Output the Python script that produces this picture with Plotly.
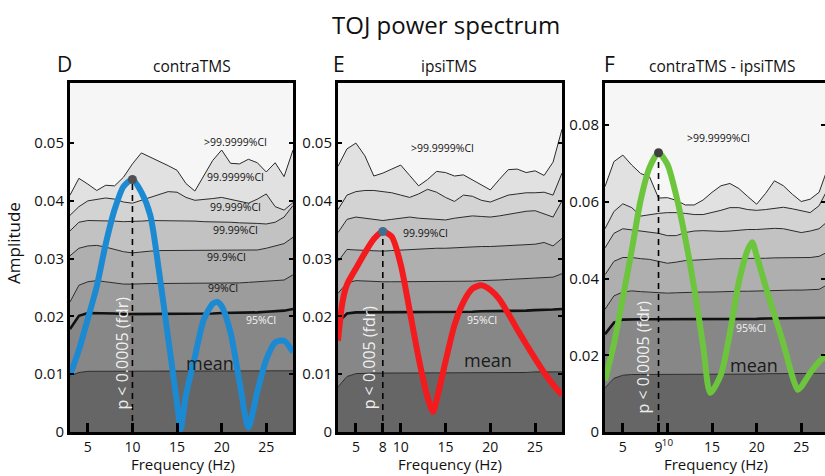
import plotly.graph_objects as go

# ---------------- data ----------------
freq = list(range(3, 29))  # Hz, 3..28

# contraTMS (panel D)
contra_ci_999999 = [0.041, 0.0439, 0.0429, 0.0418, 0.0427, 0.0426, 0.0441, 0.0464, 0.0483, 0.0476, 0.0469, 0.0461, 0.0453,
                    0.043, 0.0417, 0.0443, 0.047, 0.0488, 0.0465, 0.0464, 0.0472, 0.0466, 0.045, 0.0466, 0.0442, 0.0488]
contra_ci_99999 = [0.0375, 0.039, 0.040, 0.0402, 0.0405, 0.0403, 0.0398, 0.0396, 0.0401, 0.0406, 0.0411, 0.0416, 0.0415,
                   0.0406, 0.0401, 0.0402, 0.0404, 0.0406, 0.0403, 0.0399, 0.0396, 0.0403, 0.0412, 0.039, 0.0384, 0.0397]
contra_ci_9999 = [0.0348, 0.0363, 0.0366, 0.0366, 0.0366, 0.0365, 0.0364, 0.0364, 0.0365, 0.0366, 0.0366, 0.0365, 0.0366,
                  0.0366, 0.0365, 0.0364, 0.0364, 0.0363, 0.0363, 0.0362, 0.0362, 0.0361, 0.036, 0.0363, 0.0372, 0.0392]
contra_ci_999 = [0.0305, 0.0318, 0.0322, 0.0323, 0.032, 0.0316, 0.0312, 0.031, 0.0312, 0.0313, 0.0314, 0.0314, 0.0314,
                 0.0314, 0.0314, 0.0314, 0.0314, 0.0314, 0.0314, 0.0314, 0.0314, 0.0315, 0.0318, 0.0322, 0.0326, 0.0337]
contra_ci_99 = [0.0225, 0.0254, 0.026, 0.0262, 0.026, 0.0258, 0.0256, 0.0256, 0.0257, 0.0257, 0.0257, 0.0257, 0.0257,
                0.0257, 0.0257, 0.0257, 0.0257, 0.0257, 0.0258, 0.0258, 0.0259, 0.026, 0.026, 0.0261, 0.0263, 0.0272]
contra_ci_95 = [0.0178, 0.0201, 0.0206, 0.0206, 0.0205, 0.0205, 0.0204, 0.0204, 0.0205, 0.0205, 0.0205, 0.0205, 0.0205,
                0.0205, 0.0205, 0.0205, 0.0205, 0.0206, 0.0206, 0.0206, 0.0207, 0.0207, 0.0208, 0.0209, 0.021, 0.0213]
contra_mean = [0.0097, 0.0103, 0.0105, 0.0105, 0.0105, 0.0105, 0.0105, 0.0105, 0.0105, 0.0105, 0.0105, 0.0105, 0.0105,
               0.0105, 0.0105, 0.0105, 0.0105, 0.0105, 0.0105, 0.0105, 0.0105, 0.0105, 0.0105, 0.0105, 0.0105, 0.0106]
contra_amp_freq = [3, 4, 5, 6, 7, 8, 9, 10, 11, 12, 13, 14, 15, 15.4, 16, 17, 18, 19, 19.5, 20, 21, 22, 23, 24, 25, 26, 27, 28]
contra_amp = [0.0098, 0.0142, 0.0196, 0.0252, 0.0325, 0.0385, 0.0425, 0.0437, 0.0415, 0.0375, 0.0276, 0.0163, 0.005,
              0.0005, 0.0064, 0.013, 0.0195, 0.0222, 0.0225, 0.0218, 0.0172, 0.0087, 0.0008, 0.007, 0.0125, 0.0155,
              0.0158, 0.0138]

# ipsiTMS (panel E)
ipsi_ci_999999 = [0.046, 0.049, 0.050, 0.0478, 0.0443, 0.0448, 0.0455, 0.0462, 0.0444, 0.0426, 0.0437, 0.0451, 0.0449,
                  0.0443, 0.0445, 0.0436, 0.0427, 0.0419, 0.0437, 0.0454, 0.0455, 0.0449, 0.0452, 0.0444, 0.0467, 0.0524]
ipsi_ci_99999 = [0.0385, 0.041, 0.0416, 0.0418, 0.0418, 0.0416, 0.0414, 0.041, 0.0406, 0.0412, 0.042, 0.0415, 0.0406,
                 0.0399, 0.041, 0.0408, 0.0401, 0.0398, 0.0404, 0.041, 0.0412, 0.0414, 0.0414, 0.0415, 0.041, 0.0448]
ipsi_ci_9999 = [0.0345, 0.0368, 0.0372, 0.037, 0.0367, 0.0366, 0.0368, 0.037, 0.0372, 0.037, 0.0369, 0.0368, 0.0367,
                0.037, 0.0372, 0.0374, 0.0373, 0.0372, 0.0374, 0.0377, 0.038, 0.0382, 0.0383, 0.0378, 0.0372, 0.040]
ipsi_ci_999 = [0.0295, 0.0316, 0.0315, 0.0314, 0.0313, 0.0313, 0.0314, 0.0315, 0.0316, 0.0316, 0.0317, 0.0318, 0.0318,
               0.0319, 0.032, 0.032, 0.0321, 0.0321, 0.0322, 0.0322, 0.0323, 0.0324, 0.0325, 0.0328, 0.0322, 0.0335]
ipsi_ci_99 = [0.024, 0.0258, 0.0262, 0.0261, 0.026, 0.026, 0.026, 0.026, 0.026, 0.026, 0.026, 0.026, 0.026,
              0.026, 0.0261, 0.0261, 0.0262, 0.0262, 0.0263, 0.0264, 0.0265, 0.0266, 0.0267, 0.0268, 0.0268, 0.0274]
ipsi_ci_95 = [0.019, 0.0205, 0.0207, 0.0207, 0.0207, 0.0207, 0.0207, 0.0207, 0.0207, 0.0207, 0.0207, 0.0207, 0.0208,
              0.0208, 0.0208, 0.0208, 0.0209, 0.0209, 0.0209, 0.021, 0.021, 0.021, 0.0211, 0.0211, 0.0212, 0.0213]
ipsi_mean = [0.0078, 0.0096, 0.0101, 0.0102, 0.0102, 0.0102, 0.0102, 0.0102, 0.0102, 0.0102, 0.0102, 0.0102, 0.0102,
             0.0102, 0.0102, 0.0103, 0.0103, 0.0103, 0.0103, 0.0103, 0.0103, 0.0103, 0.0104, 0.0104, 0.0104, 0.0104]
ipsi_amp_freq = [3, 3.5, 4, 5, 6, 7, 8, 9, 10, 11, 12, 13, 13.6, 14, 15, 16, 17, 18, 19, 20, 21, 22, 23, 24, 25, 26, 27, 28]
ipsi_amp = [0.0158, 0.0225, 0.0255, 0.0283, 0.031, 0.0334, 0.0347, 0.0338, 0.029, 0.021, 0.0128, 0.006, 0.0035,
            0.0055, 0.0122, 0.0185, 0.0225, 0.0248, 0.0254, 0.0246, 0.023, 0.0205, 0.0178, 0.0152, 0.0127, 0.0103,
            0.0082, 0.0064]

# contraTMS - ipsiTMS (panel F)
diff_ci_999999 = [0.064, 0.0705, 0.0722, 0.0696, 0.0674, 0.0665, 0.061, 0.0611, 0.0604, 0.0592, 0.0592, 0.0605, 0.0625,
                  0.0642, 0.0648, 0.0635, 0.0614, 0.0594, 0.0622, 0.0655, 0.0642, 0.062, 0.0601, 0.0607, 0.0625, 0.069]
diff_ci_99999 = [0.053, 0.0575, 0.0595, 0.0585, 0.0563, 0.0567, 0.057, 0.0572, 0.0572, 0.057, 0.0567, 0.0567, 0.0572,
                 0.0578, 0.0585, 0.0585, 0.058, 0.0578, 0.058, 0.0584, 0.0586, 0.0582, 0.0578, 0.0572, 0.059, 0.0635]
diff_ci_9999 = [0.048, 0.0518, 0.053, 0.0527, 0.0524, 0.0521, 0.0518, 0.0512, 0.0512, 0.052, 0.0524, 0.0525, 0.0524,
                0.0523, 0.0524, 0.0526, 0.0528, 0.0528, 0.053, 0.0531, 0.053, 0.0524, 0.052, 0.0524, 0.053, 0.055]
diff_ci_999 = [0.041, 0.0445, 0.0455, 0.0455, 0.0452, 0.045, 0.0445, 0.044, 0.0443, 0.0447, 0.0448, 0.045, 0.0451,
               0.0452, 0.0452, 0.0452, 0.0452, 0.0453, 0.0453, 0.0454, 0.0454, 0.0455, 0.0455, 0.0455, 0.0458, 0.047]
diff_ci_99 = [0.032, 0.0355, 0.0365, 0.0368, 0.0366, 0.0365, 0.0363, 0.0362, 0.0363, 0.0364, 0.0365, 0.0365, 0.0365,
              0.0366, 0.0366, 0.0367, 0.0367, 0.0368, 0.0368, 0.0369, 0.0369, 0.037, 0.037, 0.0371, 0.0372, 0.0385]
diff_ci_95 = [0.0255, 0.0285, 0.0293, 0.0294, 0.0294, 0.0294, 0.0294, 0.0294, 0.0294, 0.0294, 0.0294, 0.0294, 0.0294,
              0.0294, 0.0295, 0.0295, 0.0295, 0.0295, 0.0296, 0.0296, 0.0296, 0.0296, 0.0297, 0.0297, 0.0297, 0.0298]
diff_mean = [0.0115, 0.014, 0.0148, 0.015, 0.015, 0.015, 0.015, 0.015, 0.015, 0.015, 0.015, 0.015, 0.015,
             0.015, 0.015, 0.0151, 0.0151, 0.0151, 0.0152, 0.0152, 0.0152, 0.0152, 0.0153, 0.0153, 0.0153, 0.0153]
diff_amp_freq = [3, 4, 5, 6, 7, 8, 9, 10, 11, 12, 13, 14, 14.8, 16, 17, 18, 19, 19.5, 20, 21, 22, 23, 24, 24.6, 25, 26, 27, 28]
diff_amp = [0.0135, 0.023, 0.035, 0.0474, 0.0605, 0.069, 0.0728, 0.0698, 0.0615, 0.0505, 0.0375, 0.0225, 0.0102,
            0.015, 0.0258, 0.039, 0.0475, 0.0495, 0.046, 0.038, 0.0305, 0.023, 0.0145, 0.011, 0.0118, 0.0154,
            0.0183, 0.0205]

ci_labels = [">99.9999%CI", "99.9999%CI", "99.999%CI", "99.99%CI", "99.9%CI", "99%CI", "95%CI", "mean"]
panel_titles = ["contraTMS", "ipsiTMS", "contraTMS - ipsiTMS"]
panel_letters = ["D", "E", "F"]
p_texts = ["p < 0.0005 (fdr)", "p < 0.005 (fdr)", "p < 0.0005 (fdr)"]
x_tickvals = [[5, 10, 15, 20, 25], [5, 8, 10, 15, 20, 25], [5, 9, 10, 15, 20, 25]]
x_ticktext = [["5", "10", "15", "20", "25"], ["5", "8", "10", "15", "20", "25"],
              ["5", "9", "<sup>10</sup>", "15", "20", "25"]]
y_tickvals = [[0, 0.01, 0.02, 0.03, 0.04, 0.05], [0, 0.01, 0.02, 0.03, 0.04, 0.05], [0, 0.02, 0.04, 0.06, 0.08]]
y_ticktext = [["0", "0.01", "0.02", "0.03", "0.04", "0.05"], ["0", "0.01", "0.02", "0.03", "0.04", "0.05"],
              ["0", "0.02", "0.04", "0.06", "0.08"]]

# ---------------- layout helpers ----------------
W, H = 825, 476
FONT = "Open Sans"


def fx(px):
    return px / W


def fy(px):
    return 1 - px / H


band_colors = ["#666666", "#878787", "#9c9c9c", "#afafaf", "#c2c2c2", "#d3d3d3", "#e1e1e1"]
amp_colors = ["#1b8ad2", "#f41b1f", "#6cc53c"]
peak_colors = ["#505050", "#3f6f8e", "#404040"]

panels = [
    dict(ci=[contra_mean, contra_ci_95, contra_ci_99, contra_ci_999, contra_ci_9999, contra_ci_99999, contra_ci_999999],
         af=contra_amp_freq, amp=contra_amp, xpx=(70, 293), xr=[3, 28], yr=[0, 0.0604],
         labels=[(21.5, 0.0502, 0), (21.6, 0.0441, 1), (21.5, 0.0389, 2), (21.5, 0.035, 3), (20.6, 0.0303, 4),
                 (20.2, 0.0249, 5), (24.4, 0.0194, 6), (18.7, 0.0119, 7)],
         ptext=(8.8, 0.0137)),
    dict(ci=[ipsi_mean, ipsi_ci_95, ipsi_ci_99, ipsi_ci_999, ipsi_ci_9999, ipsi_ci_99999, ipsi_ci_999999],
         af=ipsi_amp_freq, amp=ipsi_amp, xpx=(338, 562), xr=[3, 28], yr=[0, 0.0604],
         labels=[(14.7, 0.0491, 0), (12.75, 0.0344, 3), (19.1, 0.0194, 6), (19.7, 0.0125, 7)],
         ptext=(6.4, 0.013)),
    dict(ci=[diff_mean, diff_ci_95, diff_ci_99, diff_ci_999, diff_ci_9999, diff_ci_99999, diff_ci_999999],
         af=diff_amp_freq, amp=diff_amp, xpx=(605, 825), xr=[3, 3 + 220 / 8.92], yr=[0, 0.091],
         labels=[(15.7, 0.0766, 0), (19.4, 0.0271, 6), (19.7, 0.0175, 7)],
         ptext=(7.3, 0.0195)),
]

fig = go.Figure()
annotations = []
layout_axes = {}

for i, p in enumerate(panels):
    sx = "" if i == 0 else str(i + 1)
    xa, ya = "x" + sx, "y" + sx
    # baseline
    fig.add_trace(go.Scatter(x=freq, y=[0] * len(freq), mode="lines", line=dict(width=0, color="rgba(0,0,0,0)"),
                             xaxis=xa, yaxis=ya, showlegend=False, hoverinfo="skip"))
    for k, series in enumerate(p["ci"]):
        lw = 2.6 if k == 1 else 1.0
        lc = "#111111" if k == 1 else "#2a2a2a"
        fig.add_trace(go.Scatter(x=freq, y=series, mode="lines", fill="tonexty", fillcolor=band_colors[k],
                                 line=dict(width=lw, color=lc), xaxis=xa, yaxis=ya, showlegend=False,
                                 hoverinfo="skip"))
    # peak
    amp = p["amp"]
    k_pk = max(range(len(amp)), key=lambda j: amp[j])
    pf, pv = p["af"][k_pk], amp[k_pk]
    fig.add_trace(go.Scatter(x=[pf, pf], y=[0, pv], mode="lines", line=dict(color="black", width=1.6, dash="6px,5px"),
                             xaxis=xa, yaxis=ya, showlegend=False, hoverinfo="skip"))
    fig.add_trace(go.Scatter(x=p["af"], y=amp, mode="lines", line=dict(color=amp_colors[i], width=6, shape="spline",
                                                                        smoothing=0.7),
                             xaxis=xa, yaxis=ya, showlegend=False))
    fig.add_trace(go.Scatter(x=[pf], y=[pv], mode="markers", marker=dict(color=peak_colors[i], size=9),
                             xaxis=xa, yaxis=ya, showlegend=False))

    # axes
    layout_axes["xaxis" + sx] = dict(domain=[fx(p["xpx"][0]), fx(p["xpx"][1])], range=p["xr"], anchor=ya,
                                     tickvals=x_tickvals[i], ticktext=x_ticktext[i], ticks="inside", ticklen=9,
                                     tickwidth=3, tickcolor="black", showline=True, linewidth=3, linecolor="black",
                                     mirror=True, showgrid=False, zeroline=False, tickangle=0,
                                     tickfont=dict(family=FONT, size=14, color="#111"), automargin=False)
    layout_axes["yaxis" + sx] = dict(domain=[fy(432), fy(83)], range=p["yr"], anchor=xa,
                                     tickvals=y_tickvals[i], ticktext=y_ticktext[i], ticks="inside", ticklen=4,
                                     tickwidth=2, tickcolor="black", showline=True, linewidth=3, linecolor="black",
                                     mirror="ticks", showgrid=False, zeroline=False,
                                     tickfont=dict(family=FONT, size=15, color="#111"), automargin=False)

    # CI labels
    for (lx, ly, li) in p["labels"]:
        txt = ci_labels[li]
        if li == 7:
            f = dict(family=FONT, size=18, color="#1a1a1a")
        elif li == 6:
            f = dict(family=FONT, size=10.5, color="#f4f4f4")
        else:
            f = dict(family=FONT, size=10.5, color="#111")
        annotations.append(dict(x=lx, y=ly, xref=xa, yref=ya, text=txt, showarrow=False, font=f,
                                xanchor="center", yanchor="middle"))
    # p-value text
    annotations.append(dict(x=p["ptext"][0], y=p["ptext"][1], xref=xa, yref=ya, text=p_texts[i], textangle=-90,
                            showarrow=False, font=dict(family=FONT, size=16, color="rgba(255,255,255,0.9)"),
                            xanchor="center", yanchor="middle"))

# panel letters / titles / axis titles
letter_px = [(64, 64), (339, 64), (609, 64)]
title_px = [(192, 66), (449, 66), (722, 66)]
freq_px = [183, 450, 716]
for i in range(3):
    annotations.append(dict(x=fx(letter_px[i][0]), y=fy(letter_px[i][1]), xref="paper", yref="paper",
                            text=panel_letters[i], showarrow=False, font=dict(family=FONT, size=21, color="#111"),
                            xanchor="center", yanchor="middle"))
    annotations.append(dict(x=fx(title_px[i][0]), y=fy(title_px[i][1]), xref="paper", yref="paper",
                            text=panel_titles[i], showarrow=False, font=dict(family=FONT, size=15.5, color="#111"),
                            xanchor="center", yanchor="middle"))
    annotations.append(dict(x=fx(freq_px[i]), y=fy(463.5), xref="paper", yref="paper", text="Frequency (Hz)",
                            showarrow=False, font=dict(family=FONT, size=15, color="#111"),
                            xanchor="center", yanchor="middle"))

annotations.append(dict(x=fx(446), y=fy(24), xref="paper", yref="paper", text="TOJ power spectrum", showarrow=False,
                        font=dict(family=FONT, size=24, color="#111"), xanchor="center", yanchor="middle"))
annotations.append(dict(x=fx(14), y=fy(243), xref="paper", yref="paper", text="Amplitude", textangle=-90,
                        showarrow=False, font=dict(family=FONT, size=17, color="#111"),
                        xanchor="center", yanchor="middle"))

fig.update_layout(width=W, height=H, margin=dict(l=0, r=0, t=0, b=0), paper_bgcolor="white",
                  plot_bgcolor="#f6f6f6", annotations=annotations, showlegend=False, **layout_axes)

fig.write_html("out.html")
